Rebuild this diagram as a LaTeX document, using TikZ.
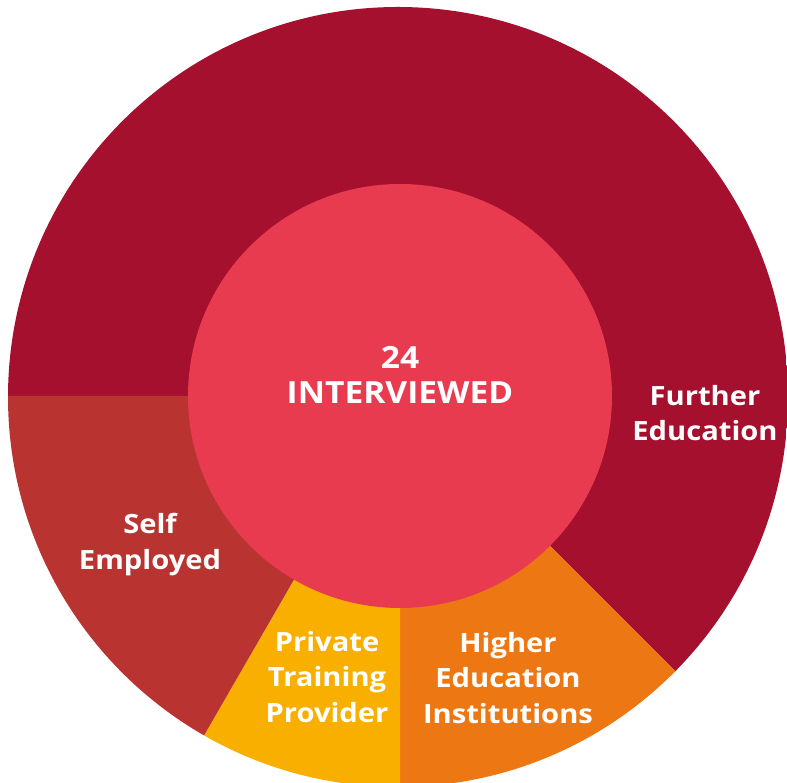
\documentclass[tikz,border=0pt]{standalone}
\usepackage{fontspec}
\setmainfont{Open Sans}[FakeStretch=1.1]
\definecolor{fecol}{HTML}{A4102E}
\definecolor{secol}{HTML}{B93331}
\definecolor{ptcol}{HTML}{F8AF00}
\definecolor{hecol}{HTML}{ED7813}
\definecolor{incol}{HTML}{E93B50}
\tikzset{
  lbl/.style={text=white, align=center, inner sep=0pt, font=\fontsize{26.5}{35.5}\selectfont\bfseries},
  ctr/.style={text=white, align=center, inner sep=0pt, font=\fontsize{30.5}{35}\selectfont\bfseries}
}
\begin{document}
\begin{tikzpicture}[x=1pt,y=1pt]
\useasboundingbox (0,0) rectangle (787,783);
\coordinate (c) at (400,387);
\begin{scope}
  \clip (398,386) circle (390);
  \fill[fecol] (c) -- ++(180:600) arc[start angle=180, end angle=-45, radius=600] -- cycle;
  \fill[hecol] (c) -- ++(-45:600) arc[start angle=-45, end angle=-90, radius=600] -- cycle;
  \fill[ptcol] (c) -- ++(-90:600) arc[start angle=-90, end angle=-120, radius=600] -- cycle;
  \fill[secol] (c) -- ++(-120:600) arc[start angle=-120, end angle=-180, radius=600] -- cycle;
\end{scope}
\fill[incol] (c) circle (212);
\node[ctr] (center) at (400,408.5) {24\\INTERVIEWED};
\node[lbl] (fe) at (705,370) {Further\\Education};
\node[lbl] (se) at (150,238.5) {Self\\Employed};
\node[lbl] (pt) at (327,106) {Private\\Training\\Provider};
\node[lbl] (he) at (508,105) {Higher\\Education\\Institutions};
\end{tikzpicture}
\end{document}
